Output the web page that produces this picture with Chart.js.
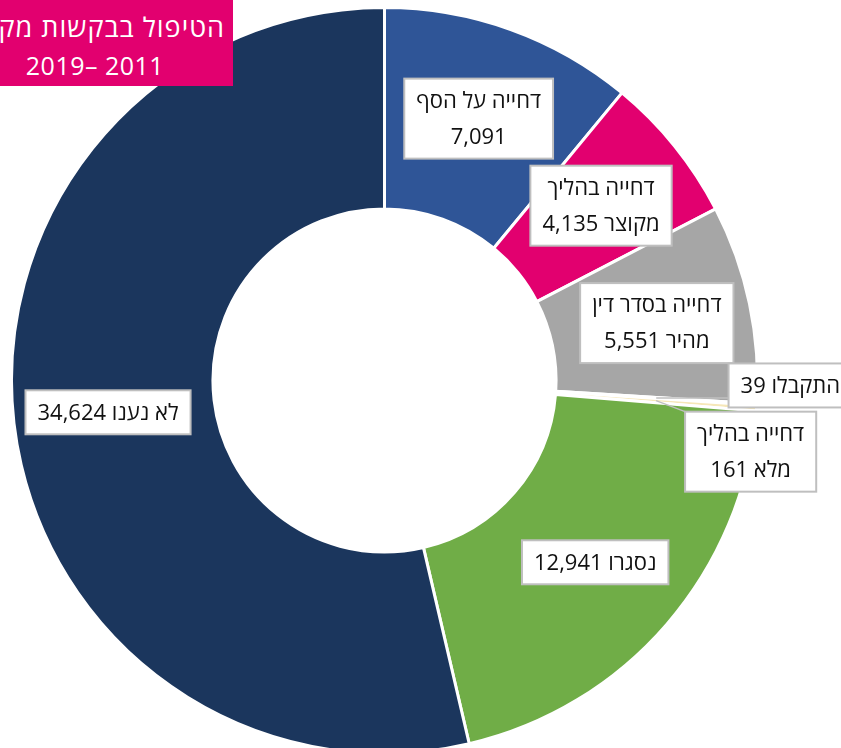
<!DOCTYPE html>
<html lang="he">
<head>
<meta charset="utf-8">
<script src="https://cdn.jsdelivr.net/npm/chart.js@4"></script>
<style>
    html, body { margin: 0; padding: 0; background: #fff; overflow: hidden; width: 841px; height: 748px; }
    #wrap { position: relative; width: 841px; height: 748px; overflow: hidden; }
    #chart { position: absolute; left: 0; top: 0; }
    #title {
        position: absolute; left: 0; top: 0; width: 233px; height: 86px;
        background: #E2006F; color: #fff; overflow: hidden;
        font-family: "Open Sans", "Liberation Sans", sans-serif;
    }
    #title .l1 { position: absolute; right: 8px; top: 8px; white-space: nowrap; font-size: 27px; letter-spacing: 1px; direction: rtl; }
    #title .l2 { position: absolute; left: 0; width: 190px; top: 48px; text-align: center; font-size: 25px; direction: ltr; letter-spacing: 0.5px; }
</style>
</head>
<body>
<div id="wrap">
    <canvas id="chart" width="841" height="760"></canvas>
    <div id="title">
        <div class="l1">הטיפול בבקשות מקלט</div>
        <div class="l2">2019– 2011</div>
    </div>
</div>
<script>
/* דונאט — הטיפול בבקשות מקלט 2011-2019 */

const categories = [
    ['דחייה על הסף', ''],
    ['דחייה בהליך', 'מקוצר'],
    ['דחייה בסדר דין', 'מהיר'],
    ['התקבלו'],
    ['דחייה בהליך', 'מלא'],
    ['נסגרו'],
    ['לא נענו'],
];
const values = [7091, 4135, 5551, 39, 161, 12941, 34624];
const colors = ['#2F5597', '#E2006F', '#A6A6A6', '#FFD966', '#F6E7B8', '#70AD47', '#1B365D'];

// label placement tweaks for the tiny slices (angle in deg from top, radius as share of outer)
const labelPlacement = [null, null, null, {angle: 90.7, r: 1.088}, {angle: 101, r: 1.0}, null, null];

function fmt(n) {
    return n.toLocaleString('en-US');
}

// last line of each label carries the value
function labelLines(i) {
    const lines = categories[i].slice();
    const last = lines[lines.length - 1];
    lines[lines.length - 1] = last ? last + ' ' + fmt(values[i]) : fmt(values[i]);
    return lines;
}

const boxLabels = {
    id: 'boxLabels',
    afterDatasetsDraw(chart) {
        const ctx = chart.ctx;
        const meta = chart.getDatasetMeta(0);
        const lineH = 36;
        ctx.save();
        ctx.font = '22px "Open Sans", "Liberation Sans", sans-serif';
        ctx.direction = 'rtl';
        ctx.textAlign = 'center';
        ctx.textBaseline = 'middle';

        meta.data.forEach((arc, i) => {
            const p = arc.getProps(['x', 'y', 'startAngle', 'endAngle', 'innerRadius', 'outerRadius'], true);
            const mid = (p.startAngle + p.endAngle) / 2;
            const midR = (p.innerRadius + p.outerRadius) / 2;
            const ax = p.x + Math.cos(mid) * midR;
            const ay = p.y + Math.sin(mid) * midR;

            let cx, cy;
            const pl = labelPlacement[i];
            if (pl) {
                const a = (pl.angle - 90) * Math.PI / 180;
                cx = p.x + Math.cos(a) * p.outerRadius * pl.r;
                cy = p.y + Math.sin(a) * p.outerRadius * pl.r;
            } else {
                cx = p.x + Math.cos(mid) * (midR + 6);
                cy = p.y + Math.sin(mid) * (midR + 6);
            }

            const lines = labelLines(i);
            const w = Math.max(...lines.map(t => ctx.measureText(t).width)) + 24;
            const h = lines.length * lineH + 8;
            const x0 = cx - w / 2, y0 = cy - h / 2;

            // leader line for the small slices
            if (pl) {
                const lx = Math.min(Math.max(ax, x0), x0 + w);
                const ly = Math.min(Math.max(ay, y0), y0 + h);
                ctx.strokeStyle = '#BFBFBF';
                ctx.lineWidth = 1.5;
                ctx.beginPath();
                ctx.moveTo(ax, ay);
                ctx.lineTo(lx, ly);
                ctx.stroke();
            }

            ctx.fillStyle = '#fff';
            ctx.fillRect(x0, y0, w, h);
            ctx.strokeStyle = '#BFBFBF';
            ctx.lineWidth = 2;
            ctx.strokeRect(x0, y0, w, h);

            ctx.fillStyle = '#111';
            lines.forEach((t, k) => {
                ctx.fillText(t, cx, y0 + 4 + lineH * k + lineH / 2 + 1);
            });
        });
        ctx.restore();
    }
};

new Chart(document.getElementById('chart').getContext('2d'), {
    type: 'doughnut',
    data: {
        labels: categories.map(c => c.join(' ')),
        datasets: [{
            data: values,
            backgroundColor: colors,
            borderColor: '#fff',
            borderWidth: 3,
        }]
    },
    options: {
        responsive: false,
        animation: false,
        cutout: '46%',
        layout: { padding: { left: 10, top: 6, right: 82, bottom: 5 } },
        plugins: {
            legend: { display: false },
            tooltip: { enabled: false },
        }
    },
    plugins: [boxLabels]
});
</script>
</body>
</html>
